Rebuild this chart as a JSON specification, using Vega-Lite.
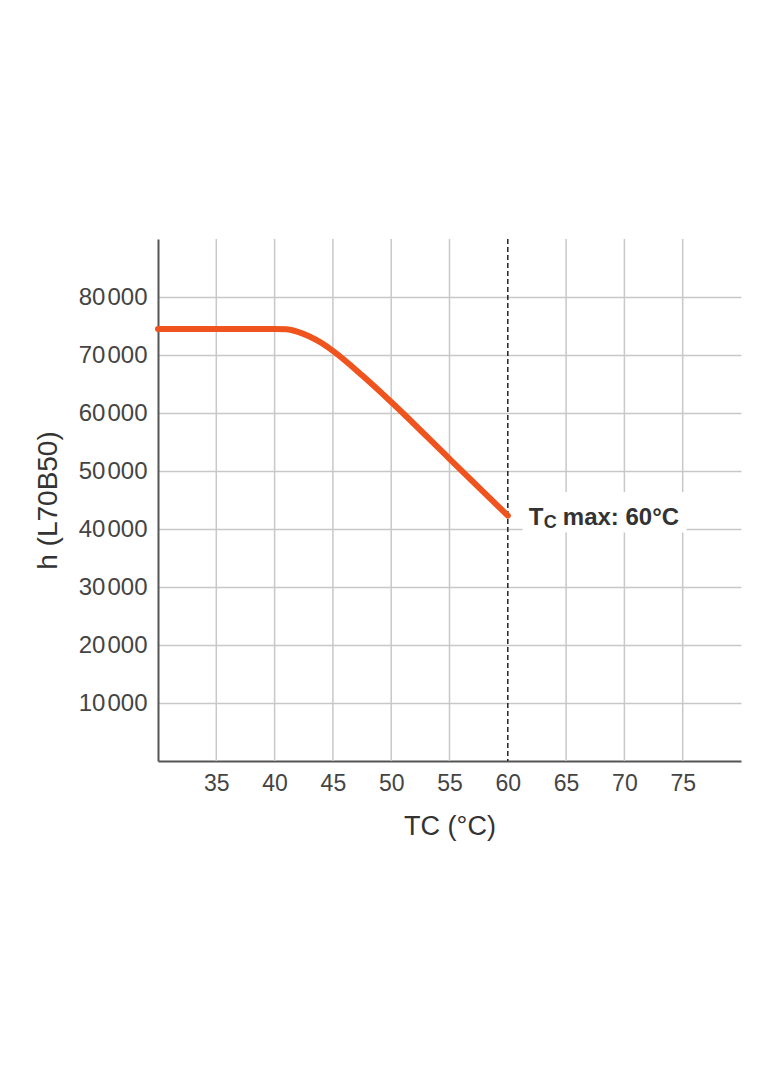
{
  "$schema": "https://vega.github.io/schema/vega-lite/v6.json",
  "width": 583,
  "height": 522,
  "autosize": "none",
  "padding": {"left": 158, "top": 239, "right": 43, "bottom": 305},
  "background": "white",
  "config": {
    "view": {"stroke": null},
    "font": "Liberation Sans",
    "axis": {
      "labelFont": "Liberation Sans",
      "titleFont": "Liberation Sans",
      "labelColor": "#444444",
      "titleColor": "#333333",
      "titleFontWeight": "normal",
      "domainColor": "#555555",
      "domainWidth": 2,
      "ticks": false,
      "labelFontSize": 23,
      "titleFontSize": 27,
      "gridColor": "#c8c8c8",
      "gridWidth": 1.5
    }
  },
  "datasets": {
    "curve": [
      {"tc": 30, "hours": 74500},
      {"tc": 35, "hours": 74500},
      {"tc": 40, "hours": 74500},
      {"tc": 41, "hours": 74450},
      {"tc": 42, "hours": 74000},
      {"tc": 43, "hours": 73200},
      {"tc": 44, "hours": 72100},
      {"tc": 45, "hours": 70700},
      {"tc": 47.5, "hours": 66500},
      {"tc": 50, "hours": 61900},
      {"tc": 55, "hours": 52100},
      {"tc": 60, "hours": 42300}
    ],
    "grid": [
      {"tc": 35}, {"tc": 40}, {"tc": 45}, {"tc": 50}, {"tc": 55},
      {"tc": 65}, {"tc": 70}, {"tc": 75}
    ],
    "maxline": [{"tc": 60}],
    "box": [{"x1": 61.26, "x2": 75.33, "y1": 39400, "y2": 46400}],
    "note": [{"tc": 60, "hours": 41900}]
  },
  "encoding": {
    "x": {
      "type": "quantitative",
      "scale": {"domain": [30, 80], "nice": false, "zero": false},
      "axis": {
        "values": [35, 40, 45, 50, 55, 60, 65, 70, 75],
        "grid": false,
        "labelPadding": 11,
        "title": "TC (°C)",
        "titlePadding": 18
      }
    },
    "y": {
      "type": "quantitative",
      "scale": {"domain": [0, 90000], "nice": false},
      "axis": {
        "values": [10000, 20000, 30000, 40000, 50000, 60000, 70000, 80000],
        "grid": true,
        "labelPadding": 11,
        "labelFontSize": 24,
        "labelExpr": "floor(datum.value / 1000) + '\u200a' + '000'",
        "title": "h (L70B50)",
        "titleFontSize": 28,
        "titlePadding": 16
      }
    }
  },
  "layer": [
    {
      "data": {"name": "grid"},
      "mark": {"type": "rule", "color": "#c8c8c8", "strokeWidth": 1.5},
      "encoding": {"x": {"field": "tc"}}
    },
    {
      "data": {"name": "box"},
      "mark": {"type": "rect", "color": "white"},
      "encoding": {
        "x": {"field": "x1"},
        "x2": {"field": "x2"},
        "y": {"field": "y1"},
        "y2": {"field": "y2"}
      }
    },
    {
      "data": {"name": "maxline"},
      "mark": {"type": "rule", "color": "#222222", "strokeWidth": 1.5, "strokeDash": [5, 3]},
      "encoding": {"x": {"field": "tc"}}
    },
    {
      "data": {"name": "curve"},
      "mark": {"type": "line", "color": "#f0541e", "strokeWidth": 6, "interpolate": "monotone", "strokeCap": "round"},
      "encoding": {"x": {"field": "tc"}, "y": {"field": "hours"}}
    },
    {
      "data": {"name": "note"},
      "mark": {"type": "text", "align": "left", "baseline": "middle", "dx": 21, "fontSize": 24, "fontWeight": "bold", "color": "#333333"},
      "encoding": {"x": {"field": "tc"}, "y": {"field": "hours"}, "text": {"value": "T"}}
    },
    {
      "data": {"name": "note"},
      "mark": {"type": "text", "align": "left", "baseline": "middle", "dx": 36, "dy": 5, "fontSize": 18, "fontWeight": "bold", "color": "#333333"},
      "encoding": {"x": {"field": "tc"}, "y": {"field": "hours"}, "text": {"value": "C"}}
    },
    {
      "data": {"name": "note"},
      "mark": {"type": "text", "align": "left", "baseline": "middle", "dx": 55, "fontSize": 24, "fontWeight": "bold", "color": "#333333"},
      "encoding": {"x": {"field": "tc"}, "y": {"field": "hours"}, "text": {"value": "max: 60°C"}}
    }
  ]
}
